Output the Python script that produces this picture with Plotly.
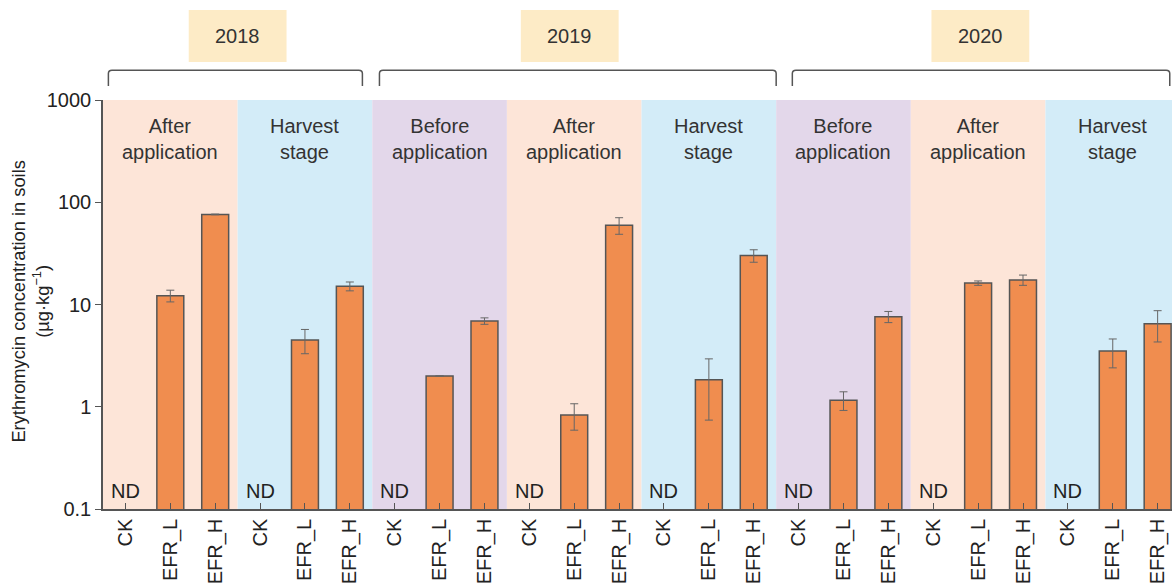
import plotly.graph_objects as go

# Sampling periods, left to right, with the year each belongs to
periods = ["After<br>application", "Harvest<br>stage",
           "Before<br>application", "After<br>application", "Harvest<br>stage",
           "Before<br>application", "After<br>application", "Harvest<br>stage"]
period_kind = ["after", "harvest", "before", "after", "harvest", "before", "after", "harvest"]
years = ["2018", "2019", "2020"]
treatments = ["CK", "EFR_L", "EFR_H"]

# Erythromycin concentration (µg·kg⁻¹); CK not detected (ND)
conc = [
    [None, 12.2, 76.0],   # 2018 after application
    [None, 4.5, 15.1],    # 2018 harvest stage
    [None, 2.0, 6.9],     # 2019 before application
    [None, 0.83, 59.6],   # 2019 after application
    [None, 1.84, 30.1],   # 2019 harvest stage
    [None, 1.16, 7.6],    # 2020 before application
    [None, 16.2, 17.4],   # 2020 after application
    [None, 3.5, 6.5],     # 2020 harvest stage
]
err = [
    [None, 1.6, 0.6],
    [None, 1.2, 1.5],
    [None, 0.0, 0.5],
    [None, 0.24, 11.0],
    [None, 1.1, 4.2],
    [None, 0.24, 0.95],
    [None, 0.8, 2.0],
    [None, 1.1, 2.2],
]

period_colors = {"after": "#FDE5D8", "harvest": "#D3ECF8", "before": "#E3D7EA"}
bar_color = "#F08D4F"
ink = "#333333"
axis_col = "#555555"
font_family = "Liberation Sans, Arial, Helvetica, sans-serif"
fs = 20

xs, ys, es, labels = [], [], [], []
for p, (vals, errs) in enumerate(zip(conc, err)):
    for t, (v, e) in enumerate(zip(vals, errs)):
        xs.append(p * 3 + t)
        ys.append(v)
        es.append(e)
        labels.append(treatments[t])

fig = go.Figure()
fig.add_trace(go.Bar(
    x=xs, y=ys, width=0.6,
    marker=dict(color=bar_color, line=dict(color=axis_col, width=1.5)),
    error_y=dict(type="data", array=es, visible=True, color="#666666",
                 thickness=1, width=4),
    showlegend=False,
))

shapes = []
annotations = []

# Background band and heading for each period
for p, name in enumerate(periods):
    x0 = p * 3 - 0.5
    shapes.append(dict(type="rect", xref="x", yref="paper", x0=x0, x1=x0 + 3,
                       y0=0, y1=1, fillcolor=period_colors[period_kind[p]],
                       line=dict(width=0), layer="below"))
    annotations.append(dict(x=p * 3 + 1, y=0.905, xref="x", yref="paper",
                            text=name, showarrow=False, yanchor="middle",
                            font=dict(size=fs, color=ink, family=font_family)))
    annotations.append(dict(x=p * 3, y=0, xref="x", yref="paper", text="ND",
                            showarrow=False, yanchor="bottom", yshift=5,
                            font=dict(size=fs, color="#222222", family=font_family)))

# Year brackets and year boxes
bracket_x = [(-0.38, 5.28), (5.66, 14.5), (14.86, 23.27)]
box_center = [2.5, 9.9, 19.05]
yt, yb = 1.073, 1.034
for yr, (bx0, bx1), bc in zip(years, bracket_x, box_center):
    r, ry = 0.08, 0.008
    path = (f"M {bx0},{yb} L {bx0},{yt - ry} Q {bx0},{yt} {bx0 + r},{yt} "
            f"L {bx1 - r},{yt} Q {bx1},{yt} {bx1},{yt - ry} L {bx1},{yb}")
    shapes.append(dict(type="path", xref="x", yref="paper", path=path,
                       line=dict(color=axis_col, width=1.5)))
    shapes.append(dict(type="rect", xref="x", yref="paper", x0=bc - 1.09, x1=bc + 1.09,
                       y0=1.093, y1=1.220, fillcolor="#FDEBC6", line=dict(width=0)))
    annotations.append(dict(x=bc, y=1.1565, xref="x", yref="paper", text=yr,
                            showarrow=False, yanchor="middle",
                            font=dict(size=fs, color=ink, family=font_family)))

# Y-axis title, placed as a rotated two-line label
annotations.append(dict(
    x=-0.0674, y=0.507, xref="paper", yref="paper", textangle=-90,
    text="Erythromycin concentration in soils<br>(µg·kg<sup>−1</sup>)",
    showarrow=False, xanchor="center", yanchor="middle",
    font=dict(size=18.3, color="#222222", family=font_family)))

fig.update_layout(
    width=1172, height=585,
    margin=dict(l=103, r=0, t=100, b=76),
    paper_bgcolor="white", plot_bgcolor="white",
    font=dict(family=font_family, size=fs, color="#222222"),
    shapes=shapes, annotations=annotations,
    xaxis=dict(range=[-0.5, 23.32], tickmode="array", tickvals=xs, ticktext=labels,
               tickangle=-90, ticks="inside", ticklen=6, tickcolor=axis_col,
               showline=True, linecolor=axis_col, linewidth=1.5, showgrid=False,
               zeroline=False, tickfont=dict(size=fs, color="#222222")),
    yaxis=dict(type="log", range=[-1, 3], tickmode="array",
               tickvals=[0.1, 1, 10, 100, 1000],
               ticktext=["0.1", "1", "10", "100", "1000"],
               ticks="outside", ticklen=6, tickcolor=axis_col,
               showline=True, linecolor=axis_col, linewidth=1.5, showgrid=False,
               zeroline=False, tickfont=dict(size=fs, color="#222222")),
)

fig.write_html("out.html")
